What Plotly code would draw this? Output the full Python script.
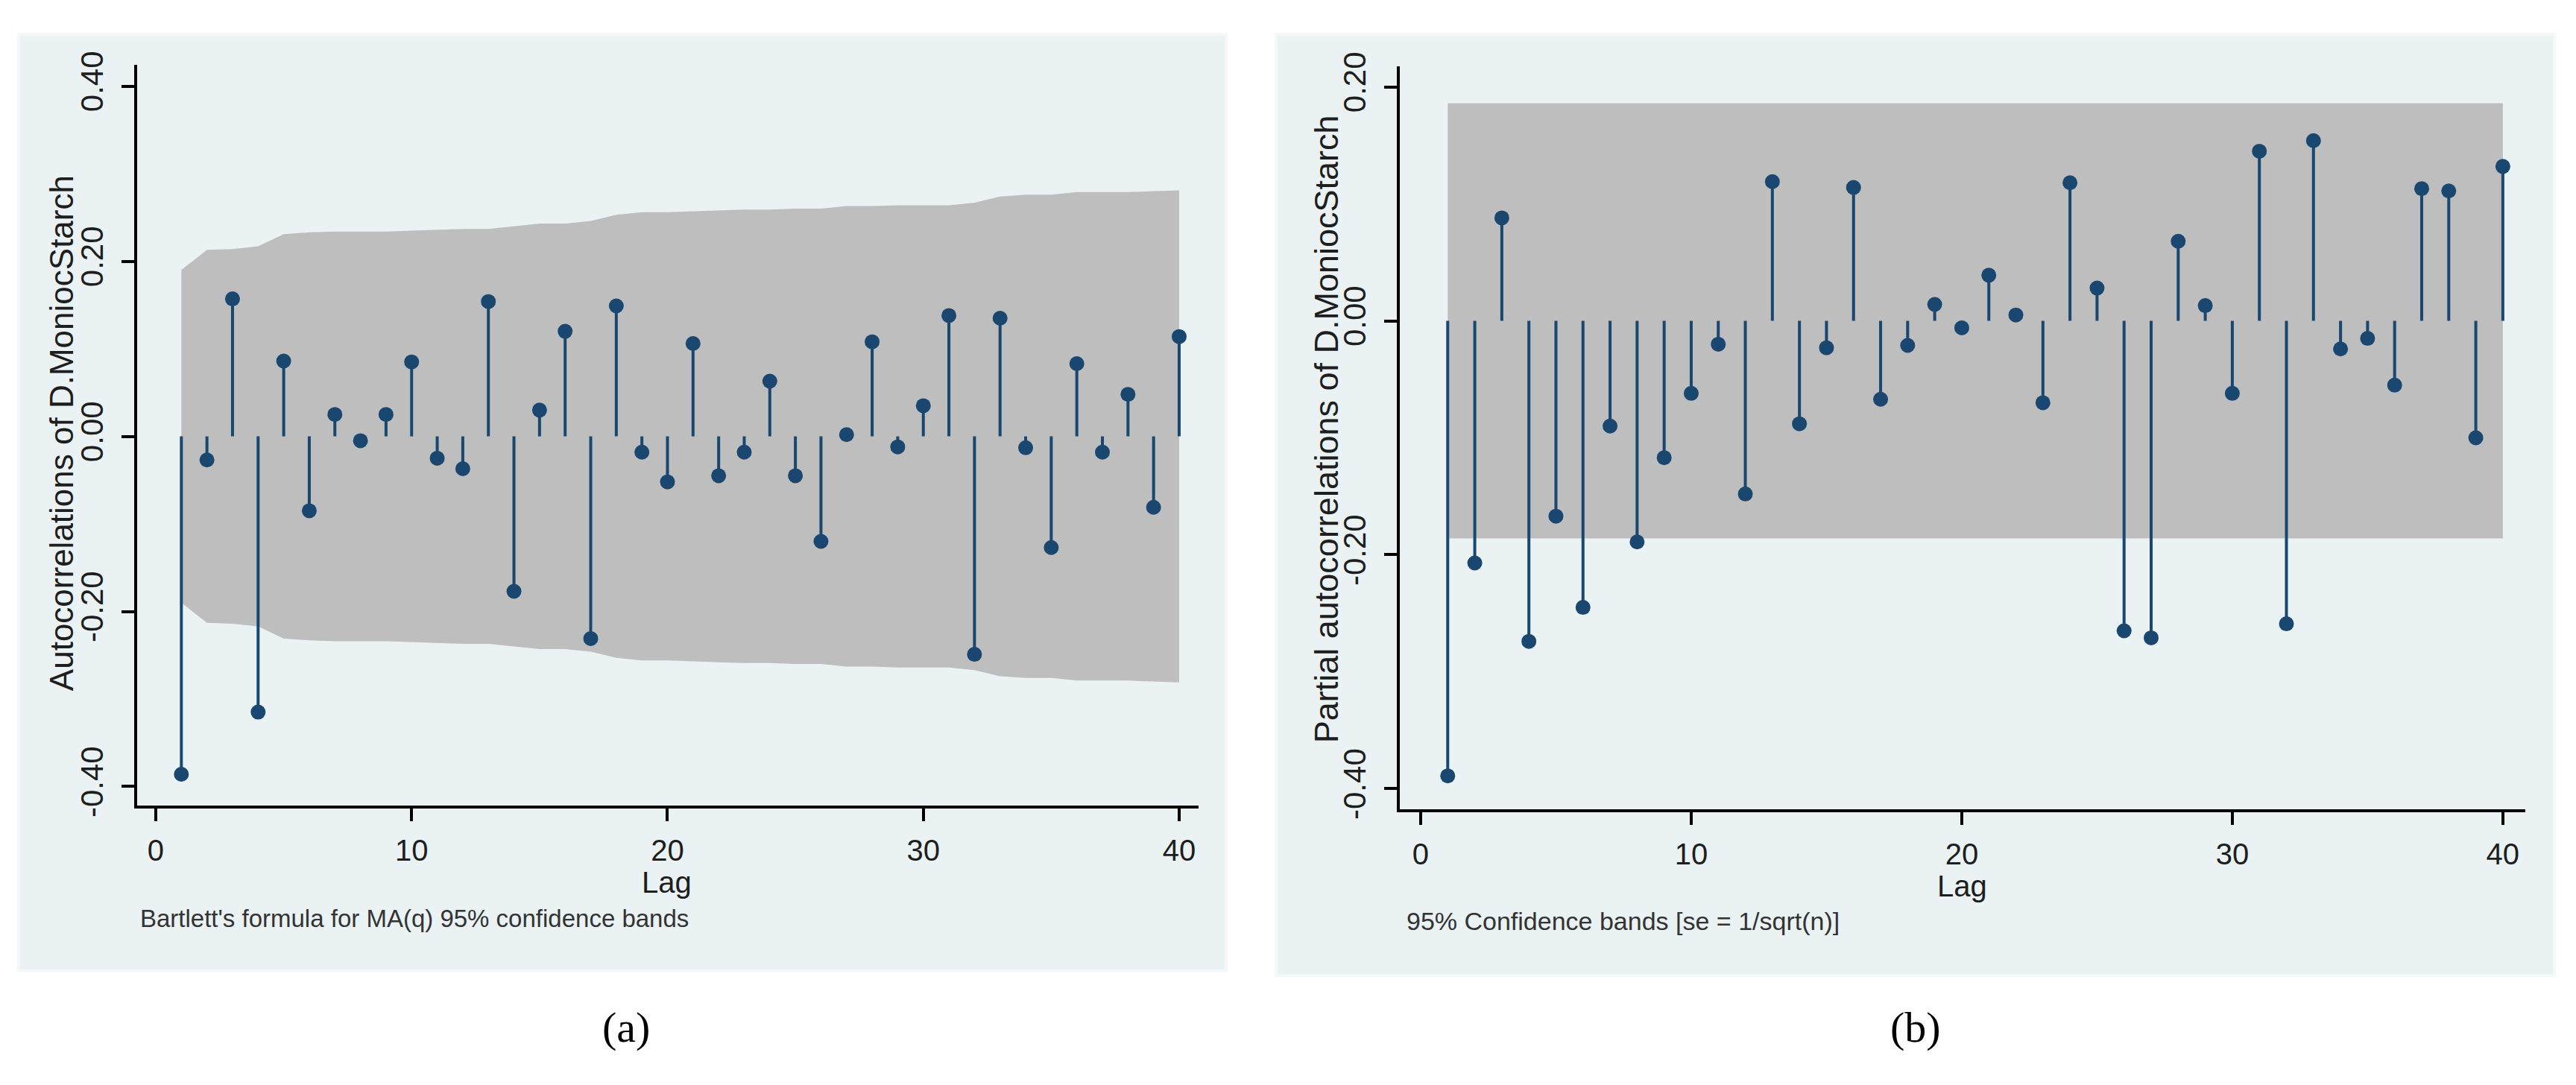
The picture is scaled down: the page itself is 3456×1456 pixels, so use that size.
import plotly.graph_objects as go

W, H = 3456, 1456

# ---------------- data ----------------
lags = list(range(1, 41))

acf = [-0.386, -0.027, 0.157, -0.315, 0.086, -0.085, 0.025, -0.005, 0.025, 0.085,
       -0.025, -0.037, 0.154, -0.177, 0.030, 0.120, -0.231, 0.149, -0.018, -0.052,
       0.106, -0.045, -0.018, 0.063, -0.045, -0.120, 0.002, 0.108, -0.012, 0.035,
       0.138, -0.249, 0.135, -0.013, -0.127, 0.083, -0.018, 0.048, -0.081, 0.114]

# Bartlett's 95% band half-width per lag
acf_band = [0.190, 0.213, 0.214, 0.217, 0.231, 0.233, 0.234, 0.234, 0.234, 0.235,
            0.236, 0.237, 0.237, 0.240, 0.243, 0.243, 0.246, 0.253, 0.256, 0.256,
            0.257, 0.258, 0.259, 0.259, 0.260, 0.260, 0.263, 0.263, 0.264, 0.264,
            0.264, 0.267, 0.274, 0.276, 0.276, 0.279, 0.279, 0.279, 0.280, 0.281]

pacf = [-0.389, -0.207, 0.088, -0.274, -0.167, -0.245, -0.090, -0.189, -0.117, -0.062,
        -0.020, -0.148, 0.119, -0.088, -0.023, 0.114, -0.067, -0.021, 0.014, -0.006,
        0.039, 0.005, -0.070, 0.118, 0.028, -0.265, -0.271, 0.068, 0.013, -0.062,
        0.145, -0.259, 0.154, -0.024, -0.015, -0.055, 0.113, 0.111, -0.100, 0.132]

pacf_band_lags = [1, 40]
pacf_band = [0.186, 0.186]

xtick_vals = [0, 10, 20, 30, 40]
ytick_vals_a = [-0.4, -0.2, 0.0, 0.2, 0.4]
ytick_text_a = ["-0.40", "-0.20", "0.00", "0.20", "0.40"]
ytick_vals_b = [-0.4, -0.2, 0.0, 0.2]
ytick_text_b = ["-0.40", "-0.20", "0.00", "0.20"]

ytitle_a = "Autocorrelations of D.MoniocStarch"
ytitle_b = "Partial autocorrelations of D.MoniocStarch"
xtitle = "Lag"
note_a = "Bartlett's formula for MA(q) 95% confidence bands"
note_b = "95% Confidence bands [se = 1/sqrt(n)]"
caption_a = "(a)"
caption_b = "(b)"

# ---------------- styling ----------------
NAVY = "#1a476f"
BAND = "#bebebe"
PANEL = "#eaf2f3"
TXT = "#1e1e1e"
SANS = "Liberation Sans, Arial, sans-serif"
SERIF = "Liberation Serif, Times New Roman, serif"


def px(x):
    return x / W


def py(y):
    return 1 - y / H


def stems(xs, ys):
    sx, sy = [], []
    for x, y in zip(xs, ys):
        sx += [x, x, None]
        sy += [0, y, None]
    return sx, sy


fig = go.Figure()

# ----- panel (a) -----
fig.add_trace(go.Scatter(
    x=lags + lags[::-1],
    y=acf_band + [-b for b in acf_band[::-1]],
    fill="toself", fillcolor=BAND, mode="lines", line=dict(width=0),
    hoverinfo="skip", showlegend=False, xaxis="x", yaxis="y"))
sx, sy = stems(lags, acf)
fig.add_trace(go.Scatter(x=sx, y=sy, mode="lines", line=dict(color=NAVY, width=4),
                         showlegend=False, xaxis="x", yaxis="y"))
fig.add_trace(go.Scatter(x=lags, y=acf, mode="markers",
                         marker=dict(color=NAVY, size=20, symbol="circle"),
                         showlegend=False, xaxis="x", yaxis="y"))

# ----- panel (b) -----
fig.add_trace(go.Scatter(
    x=pacf_band_lags + pacf_band_lags[::-1],
    y=pacf_band + [-b for b in pacf_band[::-1]],
    fill="toself", fillcolor=BAND, mode="lines", line=dict(width=0),
    hoverinfo="skip", showlegend=False, xaxis="x2", yaxis="y2"))
sx, sy = stems(lags, pacf)
fig.add_trace(go.Scatter(x=sx, y=sy, mode="lines", line=dict(color=NAVY, width=4),
                         showlegend=False, xaxis="x2", yaxis="y2"))
fig.add_trace(go.Scatter(x=lags, y=pacf, mode="markers",
                         marker=dict(color=NAVY, size=20, symbol="circle"),
                         showlegend=False, xaxis="x2", yaxis="y2"))

xcommon = dict(showline=True, linecolor="black", linewidth=4, ticks="outside",
               ticklen=17, tickwidth=4, tickcolor="black", showgrid=False,
               zeroline=False, tickvals=xtick_vals,
               tickfont=dict(family=SANS, size=40, color=TXT),
               ticklabelstandoff=5)
ycommon = dict(showline=True, linecolor="black", linewidth=4, ticks="outside",
               ticklen=17, tickwidth=4, tickcolor="black", showgrid=True,
               gridcolor=PANEL, gridwidth=4, zeroline=False, tickangle=-90,
               tickfont=dict(family=SANS, size=42, color=TXT),
               ticklabelstandoff=8)

layout = dict(
    width=W, height=H, margin=dict(l=0, r=0, t=0, b=0),
    paper_bgcolor="white", plot_bgcolor="white", showlegend=False,
    xaxis=dict(domain=[px(184), px(1608)], range=[-0.728, 40.758], anchor="y", **xcommon),
    yaxis=dict(domain=[py(1088), py(70)], range=[-0.4216, 0.4241], anchor="x",
               tickvals=ytick_vals_a, ticktext=ytick_text_a, **ycommon),
    xaxis2=dict(domain=[px(1878), px(3388)], range=[-0.771, 40.83], anchor="y2", **xcommon),
    yaxis2=dict(domain=[py(1093), py(72)], range=[-0.4174, 0.2174], anchor="x2",
                tickvals=ytick_vals_b, ticktext=ytick_text_b, **ycommon),
)

shapes = [
    dict(type="rect", xref="paper", yref="paper", x0=px(25), x1=px(1645),
         y0=py(1315), y1=py(28), fillcolor=PANEL, line=dict(color="#f4f8f9", width=4),
         layer="below"),
    dict(type="rect", xref="paper", yref="paper", x0=px(1712), x1=px(3427),
         y0=py(1322), y1=py(28), fillcolor=PANEL, line=dict(color="#f4f8f9", width=4),
         layer="below"),
]

annotations = [
    dict(text=ytitle_a, x=px(82), y=py(576), xref="paper", yref="paper", textangle=-90,
         showarrow=False, xanchor="center", yanchor="middle",
         font=dict(family=SANS, size=44, color=TXT)),
    dict(text=ytitle_b, x=px(1779), y=py(571), xref="paper", yref="paper", textangle=-90,
         showarrow=False, xanchor="center", yanchor="middle",
         font=dict(family=SANS, size=45, color=TXT)),
    dict(text=xtitle, x=px(895), y=py(1194), xref="paper", yref="paper",
         showarrow=False, xanchor="center", yanchor="middle",
         font=dict(family=SANS, size=40, color=TXT)),
    dict(text=xtitle, x=px(2632), y=py(1199), xref="paper", yref="paper",
         showarrow=False, xanchor="center", yanchor="middle",
         font=dict(family=SANS, size=40, color=TXT)),
    dict(text=note_a, x=px(186), y=py(1243), xref="paper", yref="paper",
         showarrow=False, xanchor="left", yanchor="middle",
         font=dict(family=SANS, size=33, color="#333333")),
    dict(text=note_b, x=px(1885), y=py(1247), xref="paper", yref="paper",
         showarrow=False, xanchor="left", yanchor="middle",
         font=dict(family=SANS, size=34, color="#333333")),
    dict(text=caption_a, x=px(840), y=py(1393), xref="paper", yref="paper",
         showarrow=False, xanchor="center", yanchor="middle",
         font=dict(family=SERIF, size=58, color="black")),
    dict(text=caption_b, x=px(2570), y=py(1393), xref="paper", yref="paper",
         showarrow=False, xanchor="center", yanchor="middle",
         font=dict(family=SERIF, size=58, color="black")),
]

fig.update_layout(**layout, shapes=shapes, annotations=annotations)
fig.write_html("out.html")
